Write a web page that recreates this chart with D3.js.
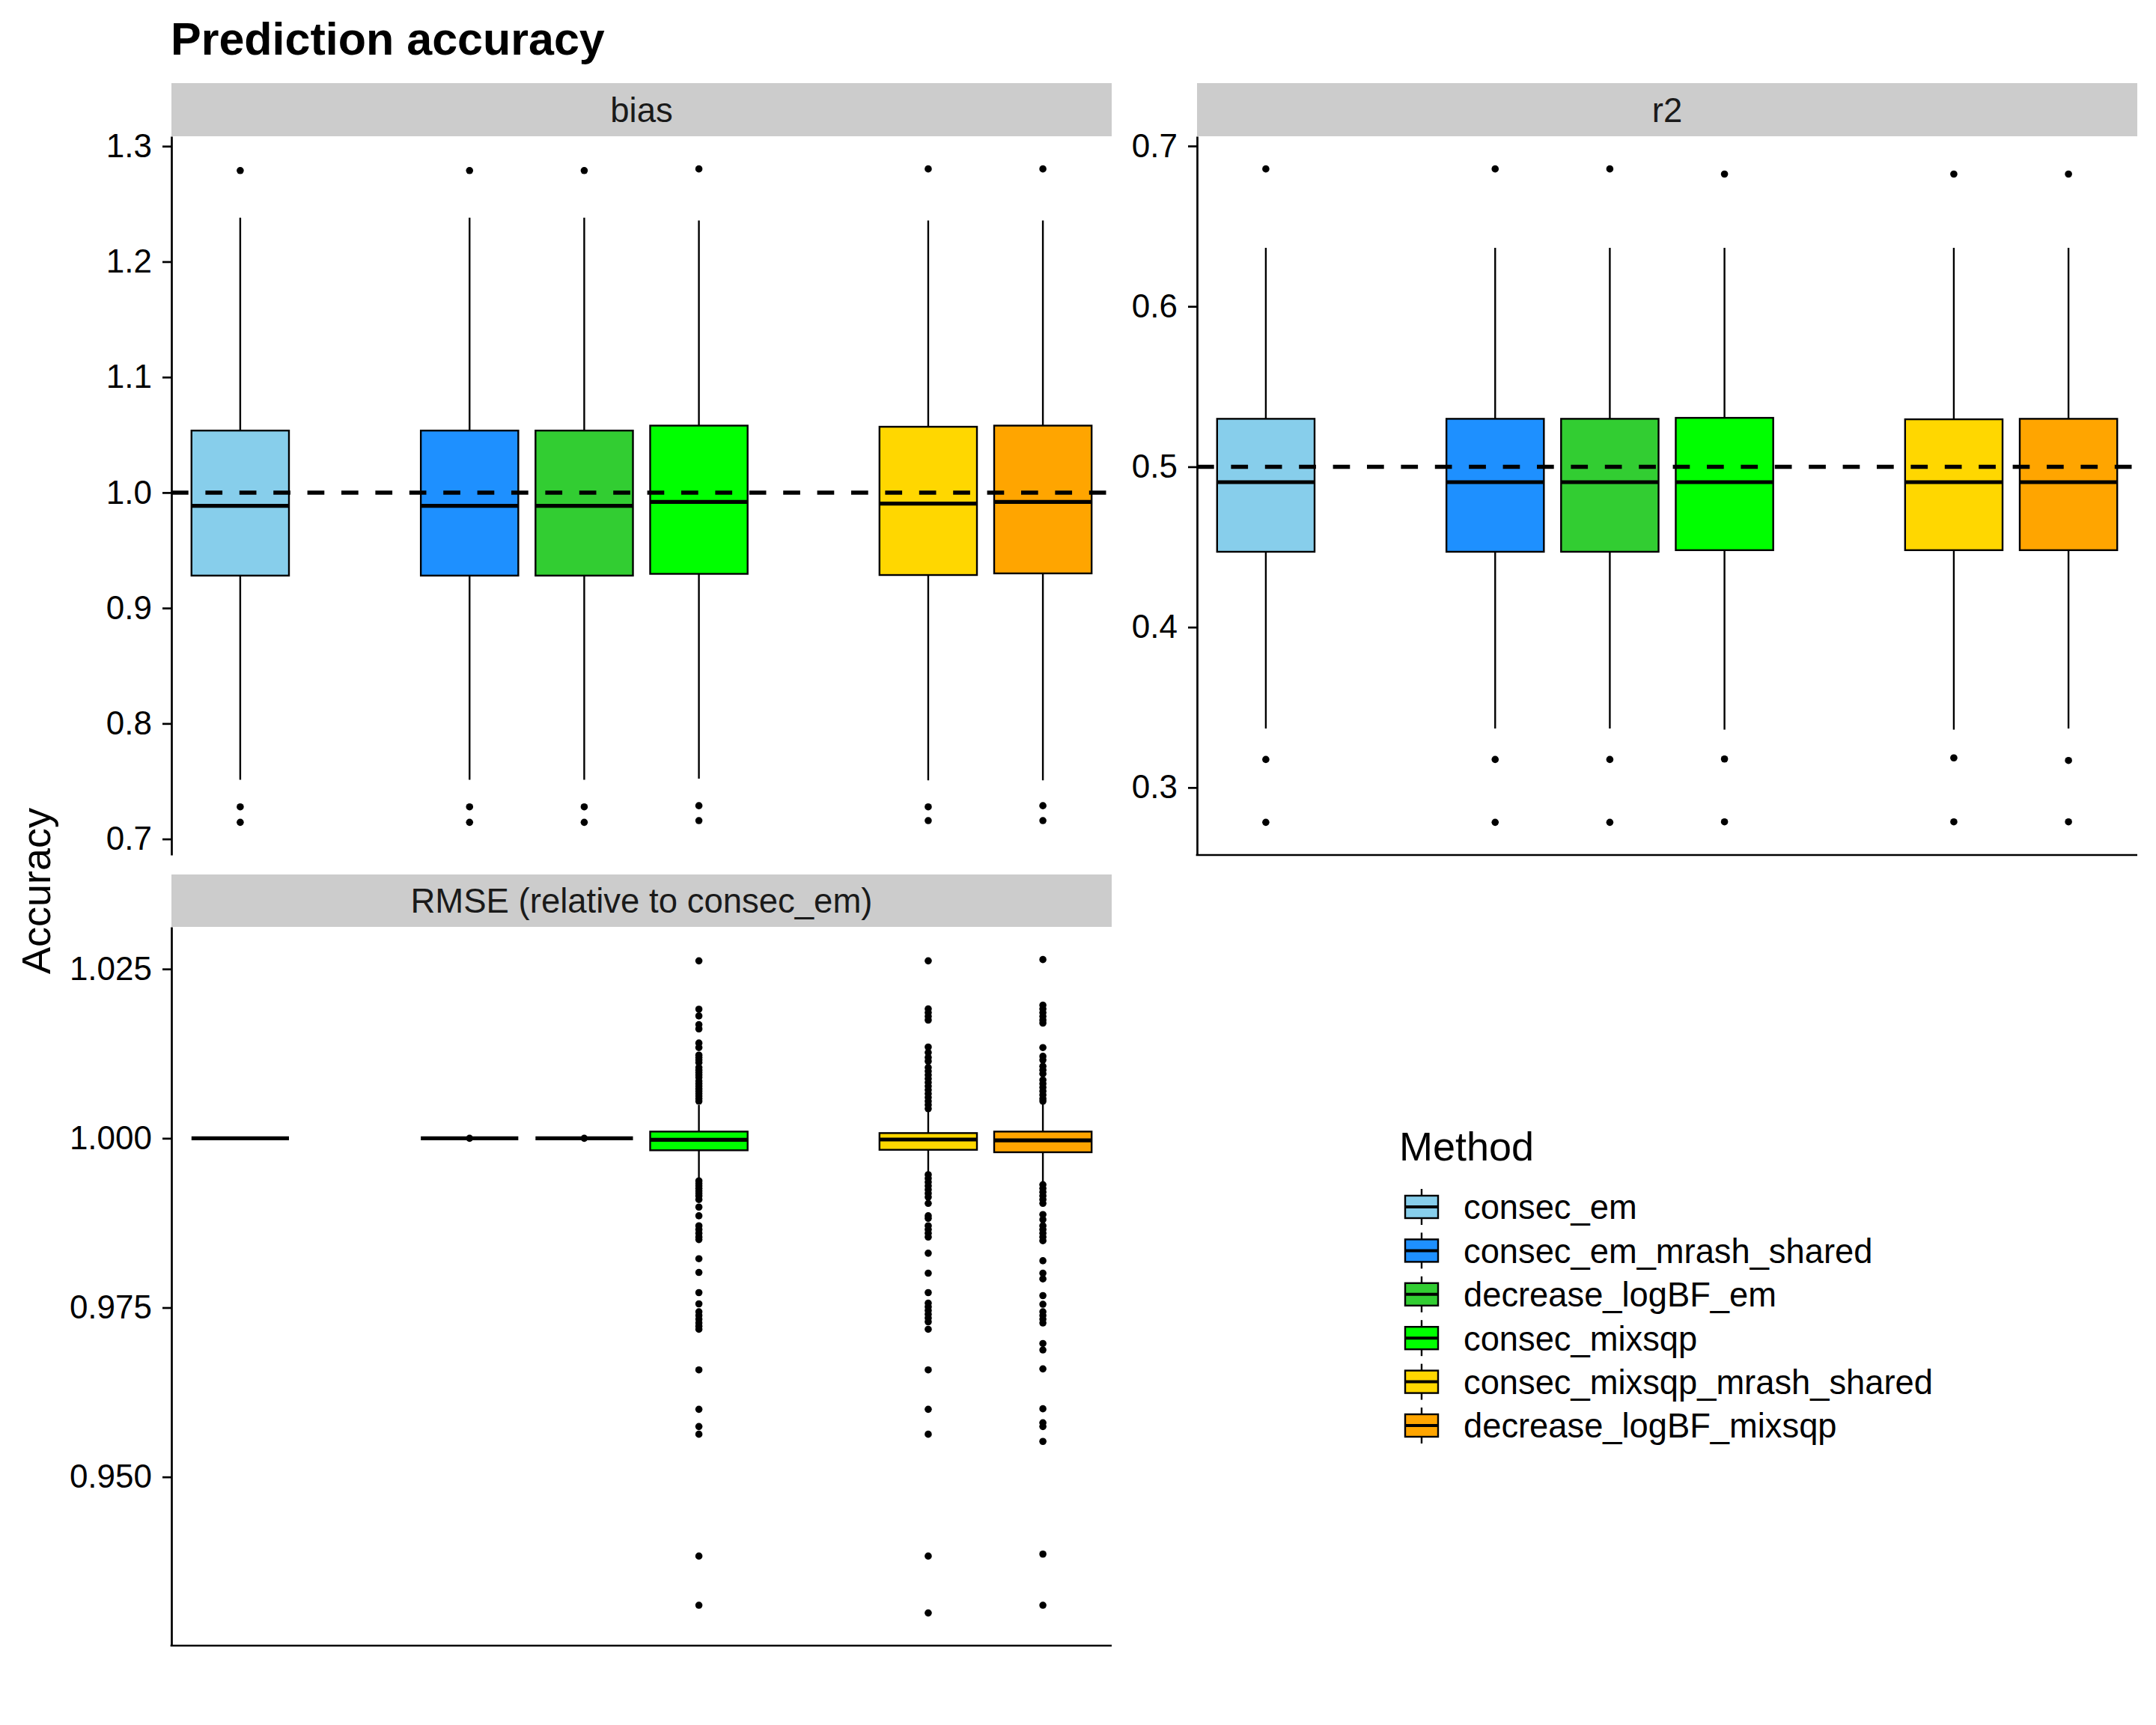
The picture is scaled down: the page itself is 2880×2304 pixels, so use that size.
<!DOCTYPE html>
<html>
<head>
<meta charset="utf-8">
<script src="https://cdn.jsdelivr.net/npm/d3@7"></script>
<style>
  html, body { margin: 0; padding: 0; background: #ffffff; }
  svg text { font-family: "Liberation Sans", Arial, Helvetica, sans-serif; }
</style>
</head>
<body>
<svg id="chart" width="2880" height="2304"></svg>
<script>
// ---------------- DATA ----------------
const methods = ["consec_em", "consec_em_mrash_shared", "decrease_logBF_em",
                 "consec_mixsqp", "consec_mixsqp_mrash_shared", "decrease_logBF_mixsqp"];
// x-axis slots (two unused slots make the visible gaps)
const xLevels = ["consec_em", "gap_a", "consec_em_mrash_shared", "decrease_logBF_em",
                 "consec_mixsqp", "gap_b", "consec_mixsqp_mrash_shared", "decrease_logBF_mixsqp"];
const methodColors = ["#87CEEB", "#1E90FF", "#32CD32", "#00FF00", "#FFD700", "#FFA500"];

const panelTitles = ["bias", "r2", "RMSE (relative to consec_em)"];

// box stats per method: [lower whisker, q1, median, q3, upper whisker]
const biasBoxes = [
  [0.7513, 0.9281, 0.9885, 1.0537, 1.2381],
  [0.7513, 0.9281, 0.9885, 1.0537, 1.2381],
  [0.7513, 0.9281, 0.9885, 1.0537, 1.2381],
  [0.7523, 0.9296, 0.9919, 1.0580, 1.2357],
  [0.7508, 0.9286, 0.9904, 1.0570, 1.2357],
  [0.7508, 0.9300, 0.9919, 1.0580, 1.2357]
];
const biasOutliers = [
  [1.2789, 0.7278, 0.7144],
  [1.2789, 0.7278, 0.7144],
  [1.2789, 0.7278, 0.7144],
  [1.2803, 0.7288, 0.7159],
  [1.2803, 0.7278, 0.7159],
  [1.2803, 0.7288, 0.7159]
];
const r2Boxes = [
  [0.3368, 0.4470, 0.4904, 0.5299, 0.6365],
  [0.3368, 0.4470, 0.4904, 0.5299, 0.6365],
  [0.3368, 0.4470, 0.4904, 0.5299, 0.6365],
  [0.3361, 0.4480, 0.4904, 0.5305, 0.6365],
  [0.3361, 0.4480, 0.4904, 0.5296, 0.6365],
  [0.3368, 0.4480, 0.4904, 0.5299, 0.6365]
];
const r2Outliers = [
  [0.6857, 0.3175, 0.2783],
  [0.6857, 0.3175, 0.2783],
  [0.6857, 0.3175, 0.2783],
  [0.6825, 0.3178, 0.2786],
  [0.6825, 0.3185, 0.2786],
  [0.6825, 0.3169, 0.2786]
];
const rmseBoxes = [
  [1.0, 1.0, 1.0, 1.0, 1.0],
  [1.0, 1.0, 1.0, 1.0, 1.0],
  [1.0, 1.0, 1.0, 1.0, 1.0],
  [0.99407, 0.99823, 0.99978, 1.00099, 1.00493],
  [0.99499, 0.99830, 0.99982, 1.00077, 1.00401],
  [0.99352, 0.99794, 0.99970, 1.00099, 1.00522]
];
const rmseOutliersConsecMixsqp = [
  1.02620, 1.01906, 1.01807, 1.01678, 1.01615, 1.01406, 1.01339, 1.01229, 1.01193, 1.01155,
  1.01119, 1.01045, 1.01008, 1.00972, 1.00934, 1.00898, 1.00843, 1.00806, 1.00769, 1.00732,
  1.00695, 1.00658, 1.00622, 1.00585, 1.00548,
  0.99371, 0.99333, 0.99297, 0.99260, 0.99223, 0.99186, 0.99150, 0.99095, 0.98984, 0.98855,
  0.98708, 0.98653, 0.98598, 0.98542, 0.98505, 0.98222, 0.98019, 0.97721, 0.97555, 0.97438,
  0.97383, 0.97328, 0.97273, 0.97225, 0.97180, 0.96580, 0.95998, 0.95744, 0.95630, 0.93831,
  0.93105
];
const rmseOutliersConsecMixsqpMrash = [
  1.02620, 1.01910, 1.01855, 1.01800, 1.01745, 1.01347, 1.01266, 1.01193, 1.01137, 1.01045,
  1.00990, 1.00934, 1.00879, 1.00824, 1.00769, 1.00713, 1.00658, 1.00603, 1.00548, 1.00493,
  1.00437,
  0.99462, 0.99407, 0.99352, 0.99297, 0.99242, 0.99186, 0.99131, 0.99039, 0.98855, 0.98818,
  0.98708, 0.98653, 0.98598, 0.98542, 0.98303, 0.98008, 0.97721, 0.97566, 0.97511, 0.97456,
  0.97401, 0.97345, 0.97290, 0.97180, 0.96580, 0.95998, 0.95630, 0.93831, 0.92991
];
const rmseOutliersDecreaseMixsqp = [
  1.02639, 1.01965, 1.01910, 1.01855, 1.01800, 1.01745, 1.01701, 1.01339, 1.01210, 1.01155,
  1.01063, 1.01008, 1.00953, 1.00861, 1.00806, 1.00751, 1.00695, 1.00640, 1.00585, 1.00548,
  0.99315, 0.99260, 0.99205, 0.99150, 0.99095, 0.99039, 0.98874, 0.98800, 0.98708, 0.98653,
  0.98598, 0.98542, 0.98487, 0.98192, 0.98008, 0.97924, 0.97677, 0.97549, 0.97438, 0.97383,
  0.97328, 0.97273, 0.96970, 0.96875, 0.96595, 0.96006, 0.95799, 0.95744, 0.95524, 0.93860,
  0.93105
];
const rmseOutliers = [
  [], [1.0], [1.0],
  rmseOutliersConsecMixsqp, rmseOutliersConsecMixsqpMrash, rmseOutliersDecreaseMixsqp
];

const biasTicks = [0.7, 0.8, 0.9, 1.0, 1.1, 1.2, 1.3];
const r2Ticks = [0.3, 0.4, 0.5, 0.6, 0.7];
const rmseTicks = [0.950, 0.975, 1.000, 1.025];
const referenceLines = [1.0, 0.5, null];

// ---------------- LAYOUT ----------------
const svg = d3.select("#chart");
svg.append("rect").attr("width", 2880).attr("height", 2304).attr("fill", "#ffffff");

const FONT_AXIS = 44;
const FONT_STRIP = 45.5;
const FONT_LEGEND = 45.3;
const cols = [{x0: 229, x1: 1485}, {x0: 1599, x1: 2855}];
const rows = [{s0: 111, top: 182, bottom: 1142}, {s0: 1168, top: 1238, bottom: 2198}];

const panels = [
  {title: panelTitles[0], col: 0, row: 0, boxes: biasBoxes, outs: biasOutliers, ticks: biasTicks, fmt: d3.format(".1f"), ref: referenceLines[0], xAxis: false},
  {title: panelTitles[1], col: 1, row: 0, boxes: r2Boxes, outs: r2Outliers, ticks: r2Ticks, fmt: d3.format(".1f"), ref: referenceLines[1], xAxis: true},
  {title: panelTitles[2], col: 0, row: 1, boxes: rmseBoxes, outs: rmseOutliers, ticks: rmseTicks, fmt: d3.format(".3f"), ref: referenceLines[2], xAxis: true}
];

panels.forEach(p => {
  const c = cols[p.col], r = rows[p.row];
  const g = svg.append("g");

  // strip
  g.append("rect").attr("x", c.x0).attr("y", r.s0)
    .attr("width", c.x1 - c.x0).attr("height", r.top - r.s0).attr("fill", "#CCCCCC");
  g.append("text").attr("x", (c.x0 + c.x1) / 2).attr("y", (r.s0 + r.top) / 2)
    .attr("dy", "0.36em").attr("text-anchor", "middle")
    .attr("font-size", FONT_STRIP).attr("fill", "#1A1A1A").text(p.title);

  // scales
  const x = d3.scalePoint().domain(xLevels).range([c.x0, c.x1]).padding(0.6);
  const allVals = p.boxes.flat().concat(p.outs.flat());
  const [mn, mx] = d3.extent(allVals);
  const pad = (mx - mn) * 0.05;
  const y = d3.scaleLinear().domain([mn - pad, mx + pad]).range([r.bottom, r.top]);
  const bw = x.step() * 0.85;

  // boxes
  methods.forEach((m, i) => {
    const cx = x(m);
    const [lo, q1, med, q3, hi] = p.boxes[i];
    const bg = g.append("g");
    // outliers
    bg.selectAll("circle").data(p.outs[i]).join("circle")
      .attr("cx", cx).attr("cy", d => y(d)).attr("r", 4.8).attr("fill", "#000");
    // whiskers
    bg.append("line").attr("x1", cx).attr("x2", cx).attr("y1", y(q3)).attr("y2", y(hi))
      .attr("stroke", "#000").attr("stroke-width", 2.4);
    bg.append("line").attr("x1", cx).attr("x2", cx).attr("y1", y(q1)).attr("y2", y(lo))
      .attr("stroke", "#000").attr("stroke-width", 2.4);
    // box
    bg.append("rect").attr("x", cx - bw / 2).attr("width", bw)
      .attr("y", y(q3)).attr("height", Math.max(0, y(q1) - y(q3)))
      .attr("fill", methodColors[i]).attr("stroke", "#000").attr("stroke-width", 2.4);
    // median
    bg.append("line").attr("x1", cx - bw / 2).attr("x2", cx + bw / 2)
      .attr("y1", y(med)).attr("y2", y(med))
      .attr("stroke", "#000").attr("stroke-width", 5.2);
  });

  // reference line
  if (p.ref !== null) {
    g.append("line").attr("x1", c.x0).attr("x2", c.x1).attr("y1", y(p.ref)).attr("y2", y(p.ref))
      .attr("stroke", "#000").attr("stroke-width", 5.5).attr("stroke-dasharray", "22.7,22.7");
  }

  // y axis
  const ax = g.append("g").attr("transform", `translate(${c.x0},0)`)
    .call(d3.axisLeft(y).tickValues(p.ticks).tickFormat(p.fmt).tickSize(12).tickSizeOuter(0).tickPadding(14));
  ax.select(".domain").attr("stroke", "#000").attr("stroke-width", 2.7);
  ax.selectAll(".tick line").attr("stroke", "#000").attr("stroke-width", 2.7);
  ax.selectAll(".tick text").attr("font-size", FONT_AXIS).attr("fill", "#000")
    .attr("font-family", '"Liberation Sans", Arial, Helvetica, sans-serif');

  // x axis line only (no ticks/labels)
  if (p.xAxis) {
    g.append("line").attr("x1", c.x0 - 1.35).attr("x2", c.x1).attr("y1", r.bottom).attr("y2", r.bottom)
      .attr("stroke", "#000").attr("stroke-width", 2.7);
  }
});

// title
svg.append("text").attr("x", 228).attr("y", 73).attr("font-size", 61).attr("font-weight", "bold")
  .attr("fill", "#000").text("Prediction accuracy");

// y axis title
svg.append("text").attr("transform", `translate(67,${(rows[0].top + rows[1].bottom) / 2}) rotate(-90)`)
  .attr("text-anchor", "middle").attr("font-size", 54).attr("fill", "#000").text("Accuracy");

// legend
const lg = svg.append("g");
lg.append("text").attr("x", 1869).attr("y", 1550).attr("font-size", 54).attr("fill", "#000").text("Method");
const legendY = d3.scalePoint().domain(methods).range([1612, 1904]);
methods.forEach((m, i) => {
  const cy = legendY(m), kx = 1899;
  lg.append("line").attr("x1", kx).attr("x2", kx).attr("y1", cy - 24).attr("y2", cy + 24)
    .attr("stroke", "#000").attr("stroke-width", 2.4);
  lg.append("rect").attr("x", kx - 22).attr("y", cy - 15).attr("width", 44).attr("height", 30)
    .attr("fill", methodColors[i]).attr("stroke", "#000").attr("stroke-width", 2.4);
  lg.append("line").attr("x1", kx - 22).attr("x2", kx + 22).attr("y1", cy).attr("y2", cy)
    .attr("stroke", "#000").attr("stroke-width", 4);
  lg.append("text").attr("x", 1955).attr("y", cy).attr("dy", "0.36em")
    .attr("font-size", FONT_LEGEND).attr("fill", "#000").text(m);
});
</script>
</body>
</html>
